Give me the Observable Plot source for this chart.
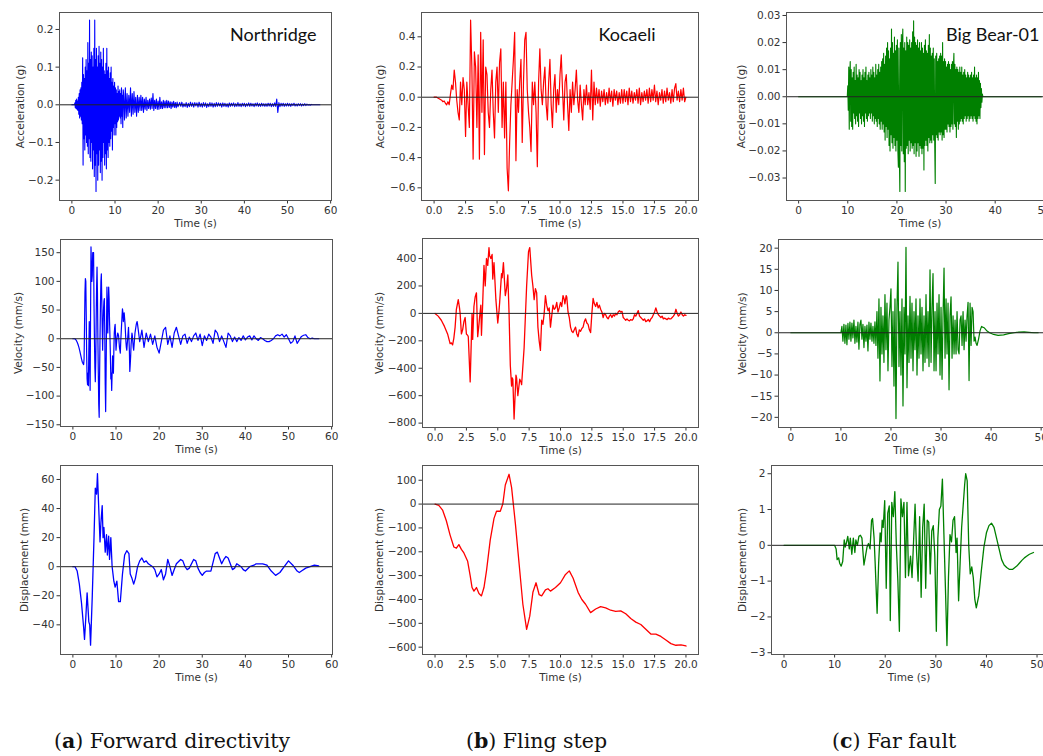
<!DOCTYPE html>
<html><head><meta charset="utf-8">
<script src="https://cdn.jsdelivr.net/npm/d3@7"></script>
<script src="https://cdn.jsdelivr.net/npm/@observablehq/plot@0.6"></script>
<style>
html,body{margin:0;padding:0;background:#fff;}
#fig{position:relative;width:1043px;height:756px;overflow:hidden;background:#fff;}
.cap{position:absolute;font-family:"DejaVu Serif",serif;font-size:20.5px;line-height:1;color:#111;white-space:nowrap;}
</style></head><body><div id="fig"></div>
<script>
// ---------- (a) Northridge ----------
const nrAccA = [ // t0 = 0, dt = 0.1
0,0,0,0,0,0,0,0.005,-0.008,0.012,
-0.01,0.015,-0.012,0.01,-0.015,0.02,-0.025,0.03,-0.035,0.04,
-0.03,0.045,-0.04,0.06,-0.05,0.125,-0.16,0.08,-0.09,0.07,
-0.12,0.1,-0.08,0.12,-0.1,0.09,-0.11,0.165,-0.13,0.11,
-0.09,0.225,-0.14,0.12,-0.15,0.14,-0.1,0.13,-0.17,0.1,
-0.12,0.15,-0.19,0.225,-0.16,0.12,-0.23,0.15,-0.13,0.1,
-0.2,0.13,-0.16,0.155,-0.12,0.11,-0.18,0.14,-0.15,0.12,
-0.2,0.1,-0.14,0.15,-0.1,0.09,-0.16,0.08,-0.13,0.11,
-0.17,0.15,-0.12,0.09,-0.14,0.1,-0.1,0.07,-0.11,0.085,
-0.09,0.1,-0.07,0.06,-0.12,0.07,-0.06,0.05,-0.08,0.06,
-0.05,0.045,-0.08,0.04,-0.06,0.03,-0.045,0.05,-0.04,0.035,
-0.03,0.04,-0.035,0.03,-0.05,0.045,-0.03,0.025,-0.06,0.04];
const nrAccB = [ // t0 = 12, dt = 0.2
0.03,-0.04,0.045,-0.035,0.03,-0.03,0.025,-0.02,0.045,-0.03,
0.03,-0.025,0.035,-0.02,0.02,-0.03,0.025,-0.02,0.02,-0.015,
0.025,-0.015,0.02,-0.02,0.015,-0.012,0.02,-0.015,0.012,-0.01,
0.015,-0.012,0.018,-0.01,0.03,-0.015,0.012,-0.01,0.015,-0.012,
0.01,-0.012,0.02,-0.01,0.008,-0.01,0.012,-0.008,0.01,-0.008,
0.012,-0.008,0.01,-0.007,0.008,-0.01,0.007,-0.006,0.009,-0.007,0.006,-0.008,0.007,-0.005];
const nrAccC = [ // t0 = 25, dt = 0.25
0.006,-0.004,0.007,-0.006,0.003,-0.005,0.006,-0.007,0.004,-0.005,
0.007,-0.004,0.005,-0.006,0.006,-0.003,0.005,-0.006,0.007,-0.005,
0.004,-0.006,0.006,-0.004,0.005,-0.007,0.003,-0.005,0.006,-0.004,
0.005,-0.006,0.004,-0.005,0.006,-0.004,0.005,-0.003,0.004,-0.006,
0.005,-0.004,0.004,-0.005,0.003,-0.006,0.005,-0.004,0.004,-0.003,
0.005,-0.005,0.003,-0.004,0.006,-0.004,0.003,-0.005,0.004,-0.003,
0.004,-0.005,0.003,-0.003,0.005,-0.004,0.004,-0.003,0.003,-0.005,
0.004,-0.003,0.005,-0.004,0.003,-0.004,0.004,-0.003,0.003,-0.004,
0.003,-0.004,0.004,-0.003,0.004,-0.005,0.003,-0.004,0.005,-0.004,
0.015,-0.02,0.006,-0.005,0.004,-0.003,0.004,-0.004,0.003,-0.003,
0.004,-0.003,0.003,-0.004,0.003,-0.002,0.004,-0.003,0.002,-0.003,
0.003,-0.002,0.003,-0.003,0.002,-0.002,0.003,-0.002,0.002,-0.001,
0.001,-0.001,0.001,0,0,0,0,0,0,0,0];
const nrVelA = [0,0,0,-1,-3,-6,-10,-15,-21,-28,-35,-41,-44]; // t0 = 0, dt = 0.2
const nrVelB = [ // t0 = 2.5, dt = 0.1
-45,-35,20,80,105,
100,40,-30,-70,-80,-60,-82,-20,30,-40,
-90,40,160,130,100,110,150,140,150,60,
0,-50,-75,-40,30,90,125,80,0,-60,
-115,-137,-60,5,60,100,113,70,20,-20,
20,50,65,70,10,-80,-127,-60,20,90,
40,10,60,90,70,30,5,-30,-70,-60,
-90,-60,-30,-45,-60,-20,10,20,25,5,
-20,-10,0,5,10,8,5,-5,-15,-20,
-25,-5,10,25,40,52,45,30,40,45,
35,25,10,-5,-15,-20,-10,0,10,20,
0,-20,-57,-45,-30,-10,0,10,5,-5,
-15,-20,-10,0,10,15,20,25,28,30];
const nrVelC = [ // t0 = 15, dt = 0.5
25,-5,15,-15,10,-5,8,-10,5,-15,
-25,-5,15,20,-10,5,-15,10,20,5,
-10,5,8,-8,3,-5,5,10,-3,8,
-12,5,-3,8,3,-8,15,10,-5,5,
-5,-15,10,5,-5,3,-5,2,-3,5,
-2,3,5,-2,5,0,-3,2,0,-3,
-5,-5,-3,0,5,7,5,8,3,7,
0,-8,-5,5,-8,-2,4,6,7,2,
0,1,0,0,0];
const nrDisp = [[0,0],[0.5,0],[1,-3],[1.5,-12],[2,-25],[2.5,-42],[2.7,-50],[3,-35],[3.3,-18],[3.7,-38],[3.9,-40],[4.1,-54],[4.5,-20],[4.9,20],[5.2,54],[5.5,50],[5.7,64],[6,40],[6.3,17],[6.5,30],[6.8,42],[7,20],[7.2,27],[7.5,10],[7.8,22],[8,8],[8.3,21],[8.5,5],[8.8,20],[9.1,0],[9.5,-10],[9.8,-14],[10.2,-10],[10.6,-24],[11,-24],[11.5,-5],[12,8],[12.5,11],[13,9],[13.3,-5],[13.7,-8],[14.1,-12],[14.5,-8],[15,0],[15.5,4],[16,6],[16.5,3],[17,4],[17.5,2],[18,1],[18.5,0],[19,-2],[19.5,-7],[20,-5],[20.5,-2],[21,-9],[21.5,-5],[22,5],[22.5,0],[23,-6],[23.5,-2],[24,2],[25,5],[25.5,4],[26,0],[26.5,-2],[27,-1],[28,5],[28.5,4],[29,-1],[29.5,-4],[30,-6],[30.5,-4],[31,-3],[32,-3],[32.5,3],[33,9],[33.5,10],[34,6],[34.5,2],[35,5],[35.5,7],[36,6],[36.5,2],[37,-2],[37.5,-1],[38,2],[38.5,1],[39,0],[39.5,-2],[40,-3],[41,0],[42,1],[42.5,2],[43,2],[44,2],[45,1],[46,-3],[47,-6],[48,-4],[49,0],[50,4],[51,1],[52,-3],[52.5,-4],[53,-3],[54,-1],[55,0],[56,1],[57,0.5]];

// ---------- (b) Kocaeli ----------
const kcAcc = [ // t0 = 0, dt = 0.1
0,0,0,-0.005,-0.01,-0.015,-0.02,-0.03,-0.025,-0.04,
-0.05,-0.03,-0.05,0.02,0.08,0.05,0.18,0.1,-0.02,-0.1,
-0.15,0.1,-0.05,0.13,0.05,-0.26,0.1,-0.05,-0.2,0.51,
0.2,-0.41,0.3,0.2,-0.2,0.28,-0.41,0.43,-0.1,0.38,
-0.38,0.2,0.15,-0.1,-0.2,0.05,0.18,-0.1,-0.27,0.1,
0.2,-0.1,0.23,0.32,-0.2,0.1,-0.27,0.1,-0.47,-0.62,
-0.3,-0.05,0.1,0.25,0.43,-0.42,0.05,-0.1,0.1,0.25,
-0.3,0.1,0.38,0.43,0.05,-0.1,-0.2,-0.36,0.1,-0.05,
0.1,-0.1,-0.46,0.1,0.32,0.05,-0.05,0.1,0.2,-0.05,
-0.15,0.1,0.25,-0.05,-0.2,0.05,0.15,-0.1,0.05,-0.05,
0.15,0.28,0.05,-0.15,0.1,0.15,-0.05,-0.22,0.05,-0.1,
0.1,-0.05,0.05,0.18,-0.02,-0.1,0.08,-0.05,-0.15,0.05,
-0.05,0.08,-0.05,0.03,-0.08,0.18,-0.15,0.1,-0.05,0.06,
-0.04,0.05,-0.06,0.04,-0.03,0.05,-0.05,0.03,-0.04,0.06,
-0.03,0.04,-0.06,0.05,-0.02,0.04,-0.05,0.03,-0.04,0.05,
-0.04,0.05,-0.03,0.04,-0.05,0.06,-0.03,0.04,-0.04,0.03,
-0.02,0.05,-0.04,0.06,-0.05,0.03,-0.03,0.04,-0.02,0.05,
-0.04,0.06,-0.03,0.05,-0.02,0.08,-0.03,0.04,-0.05,0.03,
-0.02,0.05,-0.04,0.04,-0.03,0.06,-0.02,0.03,-0.04,0.05,
-0.03,0.06,0.09,-0.02,0.04,-0.03,0.05,-0.02,0.06,-0.03,
0];
const kcVel = [[0,0],[0.25,-20],[0.5,-50],[0.75,-95],[1,-150],[1.2,-220],[1.3,-215],[1.4,-230],[1.5,-180],[1.6,-100],[1.7,30],[1.85,100],[1.95,40],[2,0],[2.1,-150],[2.2,-120],[2.3,-60],[2.4,-30],[2.5,-150],[2.6,-160],[2.65,-170],[2.8,-500],[2.95,0],[3,-190],[3.1,50],[3.2,120],[3.3,150],[3.4,-170],[3.5,-80],[3.55,-30],[3.65,60],[3.7,-160],[3.8,80],[3.9,350],[4,200],[4.1,400],[4.2,350],[4.3,480],[4.35,420],[4.45,400],[4.55,430],[4.6,250],[4.7,370],[4.85,100],[5,-70],[5.1,20],[5.15,80],[5.3,290],[5.35,260],[5.45,370],[5.6,130],[5.7,180],[5.8,280],[5.9,0],[6,-380],[6.1,-530],[6.15,-470],[6.2,-480],[6.3,-770],[6.45,-450],[6.5,-470],[6.6,-600],[6.75,-480],[6.85,-500],[6.9,-520],[7.1,-250],[7.3,200],[7.45,450],[7.55,480],[7.7,280],[7.8,200],[7.9,100],[8,180],[8.1,150],[8.2,-100],[8.3,-200],[8.4,-270],[8.5,-50],[8.6,-80],[8.7,0],[8.8,130],[8.9,60],[9,20],[9.1,40],[9.2,-100],[9.3,-20],[9.4,60],[9.5,30],[9.6,40],[9.7,80],[9.8,10],[9.9,40],[10,80],[10.1,50],[10.2,130],[10.3,100],[10.35,70],[10.45,130],[10.5,120],[10.6,10],[10.7,-30],[10.8,-100],[10.9,-130],[11,-140],[11.1,-120],[11.2,-100],[11.3,-150],[11.4,-170],[11.5,-120],[11.6,-130],[11.7,-110],[11.8,-100],[11.9,-60],[12,-40],[12.1,-70],[12.2,-80],[12.3,-120],[12.4,-140],[12.5,0],[12.6,110],[12.7,70],[12.8,50],[12.9,80],[13,40],[13.1,60],[13.2,30],[13.3,10],[13.4,-30],[13.5,0],[13.6,-10],[13.7,-30],[13.8,-40],[13.9,-20],[14,-10],[14.1,-30],[14.2,-10],[14.3,-20],[14.4,0],[14.5,-10],[14.6,10],[14.7,20],[14.8,10],[14.9,15],[15,-30],[15.1,-40],[15.2,-50],[15.3,-40],[15.4,-50],[15.5,-55],[15.6,-45],[15.7,-50],[15.8,-40],[15.9,-10],[16,-20],[16.1,0],[16.2,20],[16.3,-20],[16.4,-30],[16.5,-40],[16.6,-50],[16.7,-40],[16.8,-60],[16.9,-55],[17,-45],[17.1,-60],[17.2,-40],[17.3,-30],[17.4,-10],[17.5,10],[17.6,40],[17.7,10],[17.8,-10],[17.9,-20],[18,-30],[18.1,-20],[18.2,-40],[18.3,-35],[18.4,-40],[18.5,-45],[18.6,-35],[18.7,-40],[18.8,-40],[18.9,-30],[19,-20],[19.1,-5],[19.2,30],[19.3,0],[19.4,-20],[19.5,-10],[19.6,10],[19.7,-10],[19.8,-20],[19.9,-10],[20,-15]];
const kcDisp = [[0,0],[0.3,-5],[0.6,-25],[0.9,-70],[1.2,-130],[1.5,-180],[1.7,-185],[1.9,-170],[2.1,-190],[2.3,-205],[2.6,-240],[2.8,-300],[2.95,-350],[3.1,-365],[3.3,-350],[3.5,-375],[3.7,-385],[3.9,-350],[4.1,-280],[4.4,-150],[4.7,-60],[4.9,-30],[5.2,-30],[5.4,0],[5.6,80],[5.9,125],[6.1,70],[6.4,-80],[6.7,-250],[7,-420],[7.3,-525],[7.55,-470],[7.8,-370],[8.05,-330],[8.3,-380],[8.5,-385],[8.8,-360],[9,-355],[9.2,-365],[9.6,-350],[10,-330],[10.4,-295],[10.7,-280],[11,-310],[11.4,-370],[11.7,-400],[12,-420],[12.4,-455],[12.8,-440],[13.2,-430],[13.6,-435],[14,-445],[14.4,-450],[14.8,-448],[15.2,-460],[15.6,-480],[16,-495],[16.4,-505],[16.8,-525],[17.2,-545],[17.6,-545],[18,-555],[18.4,-570],[18.8,-585],[19.2,-592],[19.6,-590],[20,-595]];

// ---------- (c) Big Bear-01 ----------
const bbAccPre = [[0,0],[9.9,0]];
const bbAcc = [ // t0 = 10, dt = 0.1
0.004,-0.005,0.011,-0.012,0.008,0.013,-0.009,0.01,-0.011,0.007,
-0.012,0.009,-0.006,0.011,-0.008,0.006,-0.01,0.012,-0.007,0.008,
-0.009,0.007,-0.011,0.01,-0.006,0.009,-0.008,0.006,-0.01,0.008,
-0.007,0.01,-0.009,0.007,-0.011,0.009,-0.006,0.011,-0.008,0.006,
-0.009,0.008,-0.007,0.009,-0.006,0.007,-0.008,0.01,-0.006,0.008,
-0.009,0.011,-0.007,0.009,-0.01,0.007,-0.008,0.012,-0.009,0.008,
-0.011,0.01,-0.008,0.012,-0.01,0.009,-0.012,0.011,-0.009,0.013,
-0.012,0.014,-0.01,0.016,-0.013,0.012,-0.016,0.015,-0.011,0.018,
-0.015,0.02,-0.012,0.017,-0.018,0.014,-0.02,0.018,-0.014,0.025,
-0.017,0.02,-0.019,0.016,-0.015,0.022,-0.018,0.017,-0.02,0.019,
-0.016,0.021,-0.02,-0.026,0.018,-0.022,-0.035,0.02,-0.018,0.023,
-0.02,0.019,0.025,-0.021,0.018,-0.024,0.02,-0.035,0.017,-0.019,
0.022,-0.018,0.02,-0.021,0.019,-0.016,0.021,-0.02,0.018,-0.017,
0.02,-0.019,0.024,-0.018,0.028,-0.021,0.022,-0.017,0.02,-0.022,
0.019,-0.02,0.021,-0.017,0.018,-0.022,0.02,-0.018,0.017,-0.019,
0.02,-0.021,0.018,-0.019,0.016,-0.027,0.019,-0.018,0.021,-0.016,
0.017,-0.018,0.016,-0.02,0.019,-0.015,0.023,-0.017,0.018,-0.016,
0.015,-0.017,0.016,-0.014,0.018,-0.016,0.014,-0.018,-0.032,0.015,
-0.014,0.016,-0.015,0.013,-0.016,0.014,-0.013,0.015,-0.014,0.016,
-0.013,0.015,-0.016,0.02,-0.014,0.013,-0.015,0.014,-0.012,0.013,
-0.012,0.011,-0.013,0.012,-0.01,0.013,-0.011,0.012,-0.013,0.01,
-0.011,0.012,-0.01,0.013,-0.012,0.011,0.016,-0.01,0.012,-0.011,
0.01,-0.015,0.011,-0.009,0.01,-0.012,0.009,-0.01,0.011,-0.009,
0.009,-0.008,0.011,-0.009,0.008,-0.01,0.009,-0.008,0.01,-0.007,
0.008,-0.009,0.007,-0.008,0.009,-0.007,0.008,-0.009,0.007,-0.008,
0.008,-0.007,0.009,-0.008,0.007,-0.009,0.008,-0.007,0.011,-0.008,
0.007,-0.009,0.008,-0.01,0.007,-0.008,0.009,-0.007,0.006,-0.008,
0.005,-0.004,0.003,-0.002,0.001,0];
const bbAccPost = [[38,0],[49.4,0]];
const bbVelPre = [[0,0],[9.9,0]];
const bbVel = [ // t0 = 10, dt = 0.2
0,1.5,-2,2,-2.5, 1.8,-2.8,2.2,-1.5,2.5, -2,2.3,-1.2,3,-2.5, 1.5,-2.2,2.5,-3.9,2,
3,-1.5,2,-3.5,1.5, -2,1.8,-4.3,2.5,-1.5, 2.3,-2,1.5,-2.5,2.6, -3,5,-6,8,-11.4,
6,-5,4,-7,9, -4,7,-9,3,6, 10.4,-8,5,-12.6,8, -20.3,6,16.7,-8,5,
-10,8,-17.3,6,-5, 20.2,-13,4,-7,8.6, -6,7,-9,5,-4, 8,-10,4,-6,8,
-5,6,-9,4,-7, 9,-6,5,-8,14.9, -7,6,14,-9,5, -9,7,-5,9,-10,
6,-11,4,15.3,-6, 8,-5,7,-13.5,4, 8.5,-6,4,-5,3, -5,5,-4,-5,3,
4,-3,5,-4,3, -2,4,7.2,-11.3,7, -3,6,5,-2,-1, -2.5];
const bbVelTail = [[37.2,-3],[37.5,-1.5],[37.8,0.5],[38.1,1.5],[38.6,1.2],[39.2,0.4],[39.7,0],[40.5,-0.4],[41.4,-0.6],[42.5,-0.5],[43.5,-0.2],[44.6,0],[45.5,0.15],[46.6,0.2],[47.6,0.1],[48.6,0],[49.4,0]];
const bbDisp = [[0,0],[10,0],[10.3,-0.1],[10.5,-0.4],[10.8,-0.35],[11,-0.5],[11.3,-0.58],[11.6,-0.45],[11.9,0.15],[12.1,-0.05],[12.3,0.05],[12.6,0.25],[12.9,-0.1],[13.1,0.2],[13.4,-0.25],[13.7,0.2],[14,-0.2],[14.2,0.15],[14.5,0],[14.8,0.25],[15.1,0.28],[15.4,0.2],[15.8,-0.55],[16.1,-0.3],[16.4,-0.05],[16.7,0.05],[17,-0.1],[17.3,0.7],[17.5,0.75],[17.8,0.2],[18,-0.45],[18.4,-1.9],[18.7,-0.5],[19,0.35],[19.2,0.1],[19.4,0.7],[19.6,0.5],[19.9,1.25],[20.2,-1.2],[20.5,0.9],[20.8,1.1],[21,-2.1],[21.3,1.2],[21.6,0.8],[21.9,1.5],[22.2,0],[22.5,-1],[22.8,-2.4],[23.1,1.3],[23.4,0.8],[23.7,1.2],[24,-0.9],[24.3,1.2],[24.6,-0.85],[25,-0.3],[25.3,-0.9],[25.6,0.1],[25.9,1.15],[26.2,-0.2],[26.5,-1],[26.8,0.8],[27.1,-1.45],[27.4,0.5],[27.7,1.15],[28,-1.2],[28.3,0.7],[28.6,0.65],[28.9,-0.8],[29.2,0.4],[29.5,0.55],[29.8,-0.3],[30.1,-2.4],[30.4,0.2],[30.7,1],[31,1.1],[31.3,1.85],[31.6,0.3],[31.9,-1.2],[32.2,-2.8],[32.5,-0.9],[32.8,0.3],[33.1,0.1],[33.4,0.7],[33.7,0.8],[34,-0.2],[34.2,0.2],[34.5,-1.55],[34.8,-0.5],[35.1,0.5],[35.4,1.1],[35.7,1.7],[35.9,2],[36.2,1.8],[36.5,0],[36.8,-0.8],[37.1,-0.6],[37.4,-0.9],[37.7,-1.5],[38,-1.75],[38.5,-1.4],[39,-0.7],[39.5,-0.05],[40,0.35],[40.5,0.55],[41,0.62],[41.5,0.5],[42,0.2],[42.5,-0.1],[43,-0.4],[43.5,-0.55],[44,-0.62],[44.5,-0.67],[45.2,-0.67],[46,-0.58],[46.5,-0.5],[47,-0.42],[47.5,-0.35],[48,-0.3],[48.5,-0.25],[49.3,-0.2]];

// ---------- labels & ticks ----------
const titles = ["Northridge", "Kocaeli", "Big Bear-01"];
const yLabels = ["Acceleration (g)", "Velocity (mm/s)", "Displacement (mm)"];
const xLabel = "Time (s)";
const captions = [["a", "Forward directivity"], ["b", "Fling step"], ["c", "Far fault"]];
const colors = ["#0000ff", "#ff0000", "#008000"];
const ticksA = [0, 10, 20, 30, 40, 50, 60];
const ticksB = [0, 2.5, 5, 7.5, 10, 12.5, 15, 17.5, 20];
const ticksC = [0, 10, 20, 30, 40, 50];

// ---------- build ----------
const seg = (t0, dt, vals) => vals.map((v, i) => [+(t0 + i * dt).toFixed(3), v]);
const fmt = n => v => (v < 0 ? "\u2212" : "") + Math.abs(v).toFixed(n);
const range = (a, b, s) => d3.range(a, b + s / 2, s).map(v => +v.toFixed(4));
const fig = document.getElementById("fig");

function panel(p) {
  const mL = 66, mR = 12, mT = 12, mB = 36;
  const w = p.R - p.L + mL + mR, h = p.B - p.T + mT + mB;
  const marks = [
    Plot.line(p.data, {stroke: p.color, strokeWidth: p.sw || 1.3}),
    Plot.ruleY([0], {stroke: "#222", strokeWidth: 1}),
    Plot.frame({stroke: "#555"}),
    Plot.text([xLabel], {frameAnchor: "bottom", dy: 23.5, lineAnchor: "middle", fill: "#333"}),
    Plot.text([p.ylabel], {frameAnchor: "left", dx: p.ylDx, rotate: -90, textAnchor: "middle", lineAnchor: "middle", fill: "#333"})
  ];
  if (p.title) marks.push(Plot.text([p.title], {frameAnchor: "top-right", dx: p.tDx, dy: 23, textAnchor: "end", lineAnchor: "middle", fontFamily: "Lato", fontSize: 18, fill: "#111"}));
  const chart = Plot.plot({
    width: w, height: h, marginLeft: mL, marginRight: mR, marginTop: mT, marginBottom: mB,
    style: {background: "transparent", maxWidth: "none", overflow: "visible", fontFamily: "DejaVu Sans", fontSize: "10.5px", color: "#333"},
    x: {domain: p.xDomain, ticks: p.xTicks, tickFormat: p.xFmt, tickSize: 3.5, tickPadding: 2.5, label: null},
    y: {domain: p.yDomain, ticks: p.yTicks, tickFormat: p.yFmt, tickSize: 3.5, tickPadding: 2.5, label: null},
    marks
  });
  chart.style.position = "absolute";
  chart.style.left = (p.L - mL) + "px";
  chart.style.top = (p.T - mT) + "px";
  fig.appendChild(chart);
}

const colA = {xDomain: [-2.87, 60.2], xTicks: ticksA, xFmt: fmt(0), color: colors[0]};
const colB = {xDomain: [-1, 21], xTicks: ticksB, xFmt: fmt(1), color: colors[1]};
const colC = {xDomain: [-2.47, 51.87], xTicks: ticksC, xFmt: fmt(0), color: colors[2]};

panel({...colA, L: 59, R: 331, T: 12, B: 200, yDomain: [-0.254, 0.245], yTicks: range(-0.2, 0.2, 0.1), yFmt: fmt(1), ylabel: yLabels[0], ylDx: -38.5, title: titles[0], tDx: -15, sw: 1.1,
  data: [...seg(0, 0.1, nrAccA), ...seg(12, 0.2, nrAccB), ...seg(25, 0.25, nrAccC)]});
panel({...colA, L: 60, R: 332, T: 239, B: 426, yDomain: [-153, 173], yTicks: range(-150, 150, 50), yFmt: fmt(0), ylabel: yLabels[1], ylDx: -42, sw: 1.2,
  data: [...seg(0, 0.2, nrVelA), ...seg(2.5, 0.1, nrVelB), ...seg(15, 0.5, nrVelC)]});
panel({...colA, L: 60, R: 332, T: 465, B: 654, yDomain: [-60.4, 69.6], yTicks: range(-40, 60, 20), yFmt: fmt(0), ylabel: yLabels[2], ylDx: -36,
  data: nrDisp});

panel({...colB, L: 421, R: 698, T: 12, B: 200, yDomain: [-0.684, 0.561], yTicks: range(-0.6, 0.4, 0.2), yFmt: fmt(1), ylabel: yLabels[0], ylDx: -41, title: titles[1], tDx: -43, sw: 1.2,
  data: seg(0, 0.1, kcAcc)});
panel({...colB, L: 422, R: 698, T: 238, B: 427, yDomain: [-832, 546], yTicks: range(-800, 400, 200), yFmt: fmt(0), ylabel: yLabels[1], ylDx: -43,
  data: kcVel});
panel({...colB, L: 422, R: 698, T: 465, B: 654, yDomain: [-630.7, 161.8], yTicks: range(-600, 100, 100), yFmt: fmt(0), ylabel: yLabels[2], ylDx: -43,
  data: kcDisp});

panel({...colC, L: 786, R: 1053, T: 12, B: 200, yDomain: [-0.0383, 0.0311], yTicks: range(-0.03, 0.03, 0.01), yFmt: fmt(2), ylabel: yLabels[0], ylDx: -45, title: titles[2], tDx: -14, sw: 1.1,
  data: [...bbAccPre, ...seg(10, 0.1, bbAcc), ...bbAccPost]});
panel({...colC, L: 778, R: 1050, T: 239, B: 427, yDomain: [-22.4, 22.05], yTicks: range(-20, 20, 5), yFmt: fmt(0), ylabel: yLabels[1], ylDx: -36, sw: 1.2,
  data: [...bbVelPre, ...seg(10, 0.2, bbVel), ...bbVelTail]});
panel({...colC, L: 771, R: 1046, T: 465, B: 654, yDomain: [-3.05, 2.23], yTicks: range(-3, 2, 1), yFmt: fmt(0), ylabel: yLabels[2], ylDx: -29,
  data: bbDisp});

// captions
const capLeft = [54, 466, 832];
captions.forEach(([k, txt], i) => {
  const d = document.createElement("div");
  d.className = "cap";
  d.style.left = capLeft[i] + "px";
  d.style.top = "731px";
  const b = document.createElement("b"); b.textContent = k;
  d.append("(", b, ") " + txt);
  fig.appendChild(d);
});
</script></body></html>
